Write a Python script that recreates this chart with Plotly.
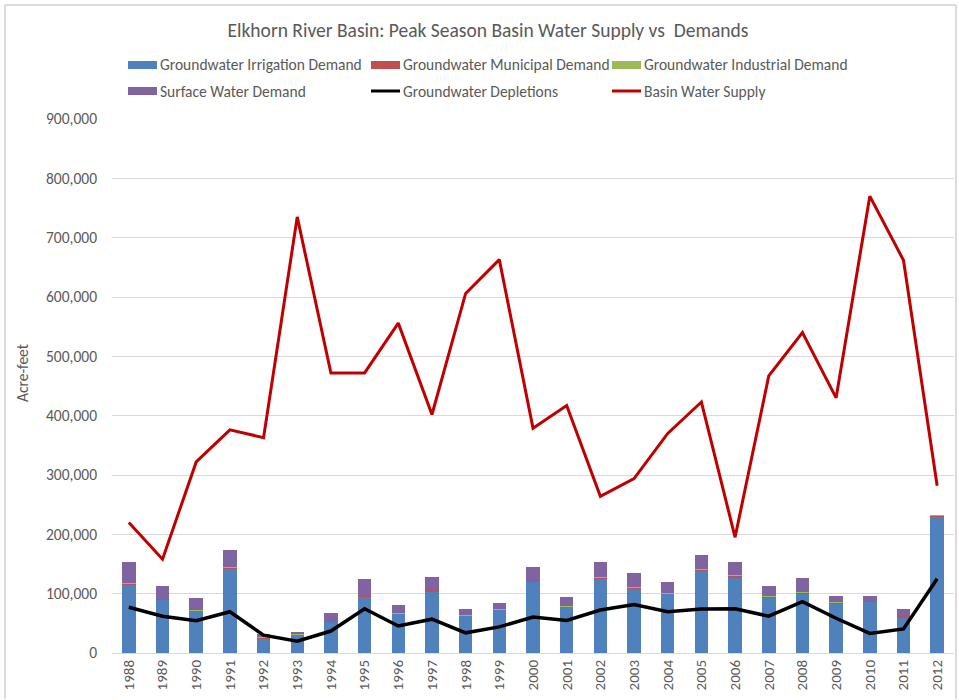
import plotly.graph_objects as go

years = [str(y) for y in range(1988, 2013)]
gw_irrigation = [116000, 90000, 71000, 142000, 25000, 30500, 53000, 95000, 66000, 104000,
                 63000, 72500, 120000, 78000, 126000, 108500, 99500, 139000, 128000, 94000,
                 100500, 84000, 86500, 60500, 230000]
gw_municipal = [1500, 1200, 1000, 1800, 800, 800, 1000, 1500, 1000, 2500,
                1000, 1200, 1500, 1200, 1800, 2500, 1500, 1500, 2500, 1500,
                1500, 1200, 1200, 2000, 1500]
gw_industrial = [400, 400, 400, 400, 400, 400, 400, 400, 400, 400,
                 400, 400, 400, 400, 400, 400, 400, 400, 400, 400,
                 400, 400, 400, 400, 1000]
surface_demand = [35100, 21400, 19600, 29300, 5300, 4300, 12600, 27100, 13600, 20600,
                  10600, 10900, 22600, 15400, 24800, 23600, 18100, 24100, 22100, 17100,
                  24600, 10900, 8400, 10600, 0]
gw_depletions = [77000, 62000, 54500, 69500, 30000, 20000, 37000, 74500, 45500, 57000,
                 34000, 44000, 60500, 55000, 72500, 81500, 69500, 74000, 74500, 62000,
                 86500, 58500, 33000, 40500, 125000]
basin_supply = [220000, 158000, 322000, 376000, 363000, 735000, 472000, 472000, 556000, 402000,
                606000, 663000, 379000, 417000, 264000, 294000, 370000, 423000, 195000, 467000,
                540000, 430000, 770000, 662000, 282000]

names = ["Groundwater Irrigation Demand", "Groundwater Municipal Demand",
         "Groundwater Industrial Demand", "Surface Water Demand",
         "Groundwater Depletions", "Basin Water Supply"]
colors = ["#4F81BD", "#C0504D", "#9BBB59", "#8064A2", "#000000", "#C00000"]

FONT = "Calibri, Carlito, Lato, sans-serif"
GREY = "#595959"

fig = go.Figure()
for vals, nm, col in zip([gw_irrigation, gw_municipal, gw_industrial, surface_demand],
                         names[:4], colors[:4]):
    fig.add_trace(go.Bar(x=years, y=vals, name=nm, marker=dict(color=col, line=dict(width=0))))
fig.add_trace(go.Scatter(x=years, y=gw_depletions, name=names[4], mode="lines",
                         line=dict(color=colors[4], width=3.5)))
fig.add_trace(go.Scatter(x=years, y=basin_supply, name=names[5], mode="lines",
                         line=dict(color=colors[5], width=3)))

# plot area in page pixels (body margin removed by post_script)
L, R, T, B = 112, 954, 119, 653
W, H = 959, 700
def px(x):
    return (x - L) / (R - L)
def py(y):
    return (B - y) / (B - T)

# custom legend
shapes = []
annotations = []
cols_x = [128, 371, 612]
rows_y = [65, 91]
for i, (nm, col) in enumerate(zip(names, colors)):
    r, c = divmod(i, 3)
    x0 = cols_x[c]
    yc = rows_y[r]
    if i < 4:
        shapes.append(dict(type="rect", xref="paper", yref="paper",
                           x0=px(x0), x1=px(x0 + 29), y0=py(yc + 4), y1=py(yc - 4),
                           fillcolor=col, line=dict(width=0)))
    else:
        shapes.append(dict(type="line", xref="paper", yref="paper",
                           x0=px(x0), x1=px(x0 + 29), y0=py(yc), y1=py(yc),
                           line=dict(color=col, width=3)))
    annotations.append(dict(text=nm, xref="paper", yref="paper", x=px(x0 + 30), y=py(yc),
                            xanchor="left", yanchor="middle", showarrow=False,
                            font=dict(family=FONT, size=15.5, color=GREY)))

# y-axis title
annotations.append(dict(text="Acre-feet", xref="paper", yref="paper", x=px(22), y=py(373),
                        xanchor="center", yanchor="middle", showarrow=False, textangle=-90,
                        font=dict(family=FONT, size=15.5, color=GREY)))

# chart frame
frame_col = "#D0D0D0"
for (xa, ya, xb, yb) in [(5, 699, 5, 5), (5, 5, 956, 5), (956, 5, 956, 699)]:
    shapes.append(dict(type="line", xref="paper", yref="paper",
                       x0=px(xa), y0=py(ya), x1=px(xb), y1=py(yb),
                       line=dict(color=frame_col, width=1.5)))

fig.update_layout(
    width=W, height=H,
    margin=dict(l=L, r=W - R, t=T, b=H - B),
    paper_bgcolor="white", plot_bgcolor="white",
    barmode="stack", bargap=0.6,
    showlegend=False,
    title=dict(text="Elkhorn River Basin: Peak Season Basin Water Supply vs  Demands",
               x=488 / W, xanchor="center", y=1 - 30 / H, yanchor="middle",
               font=dict(family=FONT, size=19.5, color=GREY)),
    font=dict(family=FONT, color=GREY),
    shapes=shapes, annotations=annotations,
)
fig.update_xaxes(type="category", tickangle=-90, showgrid=False,
                 showline=True, linecolor="#D9D9D9", linewidth=1,
                 tickfont=dict(family=FONT, size=15, color=GREY), ticks="")
fig.update_yaxes(range=[0, 900000], dtick=100000, tickformat=",d",
                 showgrid=True, gridcolor="#D9D9D9", gridwidth=1, zeroline=False,
                 showline=False, ticks="", ticklabelstandoff=14,
                 tickfont=dict(family=FONT, size=15.5, color=GREY))

fig.write_html("out.html", config={"displayModeBar": False},
               post_script="document.body.style.margin='0';document.body.style.overflow='hidden';")
